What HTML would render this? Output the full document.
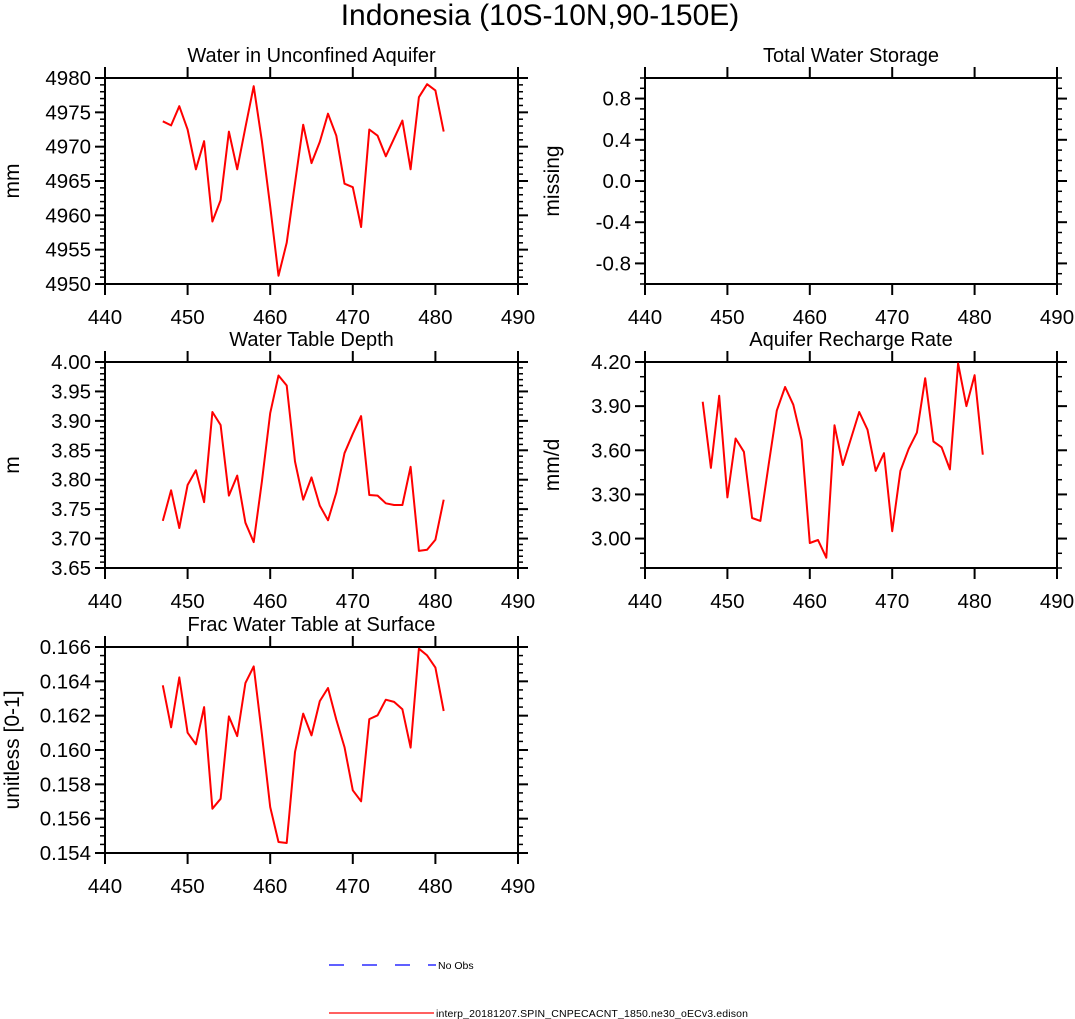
<!DOCTYPE html>
<html><head><meta charset="utf-8"><style>
html,body{margin:0;padding:0;background:#fff;}
svg{display:block;font-family:"Liberation Sans",Arial,sans-serif;}
</style></head><body>
<svg id="chart" width="1075" height="1019" viewBox="0 0 1075 1019" xmlns="http://www.w3.org/2000/svg">
<text x="540" y="25" text-anchor="middle" font-size="30">Indonesia (10S-10N,90-150E)</text>
<g>
<line x1="329" y1="965" x2="436" y2="965" stroke="#0000ff" stroke-width="1.3" stroke-dasharray="15,18"/>
<text x="438" y="969" font-size="10.5">No Obs</text>
<line x1="329" y1="1013" x2="434" y2="1013" stroke="#ff0000" stroke-width="1.3"/>
<text x="436" y="1017" font-size="10.5" textLength="312">interp_20181207.SPIN_CNPECACNT_1850.ne30_oECv3.edison</text>
</g>
</svg>
<script>
const years = [447,448,449,450,451,452,453,454,455,456,457,458,459,460,461,462,463,464,465,466,467,468,469,470,471,472,473,474,475,476,477,478,479,480,481];
const xTicks = [440,450,460,470,480,490];
const aquiferWater = [4973.7,4973.1,4975.9,4972.5,4966.7,4970.8,4959.1,4962.2,4972.2,4966.7,4972.8,4978.8,4970.8,4961.3,4951.2,4956.0,4964.7,4973.2,4967.6,4970.7,4974.8,4971.6,4964.6,4964.1,4958.3,4972.5,4971.6,4968.6,4971.2,4973.8,4966.7,4977.2,4979.1,4978.2,4972.2];
const aquiferTicks = ["4950","4955","4960","4965","4970","4975","4980"];
const storageTicks = ["-0.8","-0.4","0.0","0.4","0.8"];
const tableDepth = [3.730,3.782,3.718,3.791,3.816,3.762,3.915,3.893,3.773,3.807,3.727,3.694,3.797,3.913,3.977,3.960,3.831,3.766,3.804,3.756,3.731,3.778,3.845,3.878,3.908,3.774,3.773,3.760,3.757,3.757,3.822,3.679,3.681,3.698,3.766];
const depthTicks = ["3.65","3.70","3.75","3.80","3.85","3.90","3.95","4.00"];
const recharge = [3.93,3.48,3.97,3.28,3.68,3.59,3.14,3.12,3.50,3.87,4.03,3.91,3.67,2.97,2.99,2.87,3.77,3.50,3.68,3.86,3.74,3.46,3.58,3.05,3.46,3.61,3.72,4.09,3.66,3.62,3.47,4.19,3.90,4.11,3.57];
const rechargeTicks = ["3.00","3.30","3.60","3.90","4.20"];
const fracSurface = [0.16377,0.16132,0.16423,0.16101,0.16033,0.16250,0.15658,0.15716,0.16196,0.16081,0.16390,0.16487,0.16091,0.15668,0.15464,0.15458,0.15988,0.16212,0.16085,0.16285,0.16361,0.16177,0.16017,0.15765,0.15701,0.16180,0.16202,0.16293,0.16280,0.16237,0.16014,0.16590,0.16551,0.16480,0.16227];
const fracTicks = ["0.154","0.156","0.158","0.160","0.162","0.164","0.166"];

const NS="http://www.w3.org/2000/svg";
const svg=document.getElementById('chart');
function mk(tag,attrs,parent){const e=document.createElementNS(NS,tag);for(const k in attrs)e.setAttribute(k,attrs[k]);(parent||svg).appendChild(e);return e;}

function panel(name,title,ytitle,x0,y0,x1,y1,ymin,ymax,minorStep,ticks,data){
  const g=mk('g',{});
  
  
  const sx=v=>x0+(v-440)/50*(x1-x0);
  const sy=v=>y1-(v-ymin)/(ymax-ymin)*(y1-y0);
  const t=mk('text',{x:(x0+x1)/2,y:y0-16,'text-anchor':'middle','font-size':20},g);
  t.textContent=title;
  
  
  const yt=mk('text',{x:0,y:0,'text-anchor':'middle','font-size':21,transform:`translate(${x0-86},${(y0+y1)/2}) rotate(-90)`},g);
  yt.textContent=ytitle;
  
  
  const nMinor=Math.round((ymax-ymin)/minorStep);
  for(let i=0;i<=nMinor;i++){const y=sy(ymin+i*minorStep);
    mk('line',{x1:x0-5,x2:x0,y1:y,y2:y,stroke:'#000','stroke-width':1.5},g);
    mk('line',{x1:x1,x2:x1+5,y1:y,y2:y,stroke:'#000','stroke-width':1.5},g);}
  ticks.forEach(s=>{const y=sy(parseFloat(s));
    mk('line',{x1:x0-10,x2:x0,y1:y,y2:y,stroke:'#000','stroke-width':2},g);
    mk('line',{x1:x1,x2:x1+10,y1:y,y2:y,stroke:'#000','stroke-width':2},g);
    const l=mk('text',{x:x0-14,y:y+7,'text-anchor':'end','font-size':20.5},g);l.textContent=s;
    
    });
  xTicks.forEach(v=>{const x=sx(v);
    mk('line',{x1:x,x2:x,y1:y0-11,y2:y0,stroke:'#000','stroke-width':2},g);
    mk('line',{x1:x,x2:x,y1:y1,y2:y1+11,stroke:'#000','stroke-width':2},g);
    const l=mk('text',{x:x,y:y1+40,'text-anchor':'middle','font-size':20.5},g);l.textContent=v;
    
    });
  const fr=mk('rect',{x:x0,y:y0,width:x1-x0,height:y1-y0,fill:'none',stroke:'#000','stroke-width':2},g);
  
  
  if(data){
    const pts=data.map((v,i)=>sx(years[i]).toFixed(1)+','+sy(v).toFixed(1)).join(' ');
    const pl=mk('polyline',{points:pts,fill:'none',stroke:'#ff0000','stroke-width':2,'stroke-linejoin':'round'},g);
    
    
  }
}
panel('unconfined-aquifer','Water in Unconfined Aquifer','mm',105,78,518,284,4950,4980,1,aquiferTicks,aquiferWater);
panel('total-water-storage','Total Water Storage','missing',645,78,1057,284,-1,1,0.1,storageTicks,null);
panel('water-table-depth','Water Table Depth','m',105,362,518,568,3.65,4.00,0.01,depthTicks,tableDepth);
panel('aquifer-recharge','Aquifer Recharge Rate','mm/d',645,362,1057,568,2.8,4.2,0.1,rechargeTicks,recharge);
panel('frac-water-table','Frac Water Table at Surface','unitless [0-1]',105,647,518,853,0.154,0.166,0.0005,fracTicks,fracSurface);
</script>
</body></html>
